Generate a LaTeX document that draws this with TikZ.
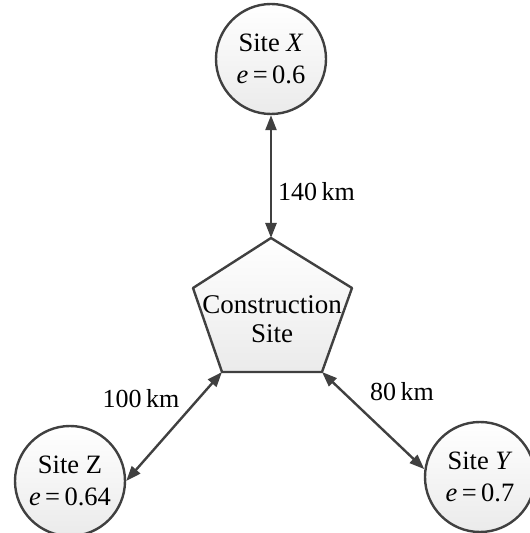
\documentclass[tikz,border=0pt]{standalone}
\usepackage{fontspec}
\setmainfont{Liberation Serif}
\usetikzlibrary{arrows.meta}

\begin{document}
\begin{tikzpicture}[x=1pt,y=1pt]
    \tikzset{site/.style={draw=black!75,circle,line width=2.4pt,minimum size=110pt,inner sep=0pt,
        align=center,top color=white,bottom color=black!8,font=\fontsize{26.5}{32}\selectfont},
    link/.style={draw=black!75,line width=2.4pt,{Triangle[length=15pt,width=11pt]}-{Triangle[length=15pt,width=11pt]}},
    dist/.style={font=\fontsize{26}{31}\selectfont,inner sep=0pt}}
    \useasboundingbox (0,0) rectangle (530,533);
    % construction site
    \coordinate (Pt) at (271,295);
    \coordinate (Pl) at (193,245);
    \coordinate (Pr) at (352,245);
    \coordinate (Pbr) at (322,161);
    \coordinate (Pbl) at (222,161);
    \draw[draw=black!75,line width=2.4pt,line join=round,top color=white,bottom color=black!8]
        (Pt) -- (Pr) -- (Pbr) -- (Pbl) -- (Pl) -- cycle;
    \node[align=center,font=\fontsize{27}{29}\selectfont] (C) at (272,214) {Construction\\Site};
    % sites
    \node[site] (X) at (271,474) {Site \textit{X}\\\textit{e}\,=\,0.6};
    \node[site] (Z) at (70,52) {Site Z\\\textit{e}\,=\,0.64};
    \node[site] (Y) at (480,56) {Site \textit{Y}\\\textit{e}\,=\,0.7};
    % distances
    \draw[link] (X) -- (Pt);
    \draw[link] (Z.east) -- (Pbl);
    \draw[link] (Y.172) -- (Pbr);
    \node[dist,anchor=west] (dX) at (278,341) {140\,km};
    \node[dist] (dZ) at (141,134) {100\,km};
    \node[dist] (dY) at (402,141) {80\,km};
\end{tikzpicture}
\end{document}
